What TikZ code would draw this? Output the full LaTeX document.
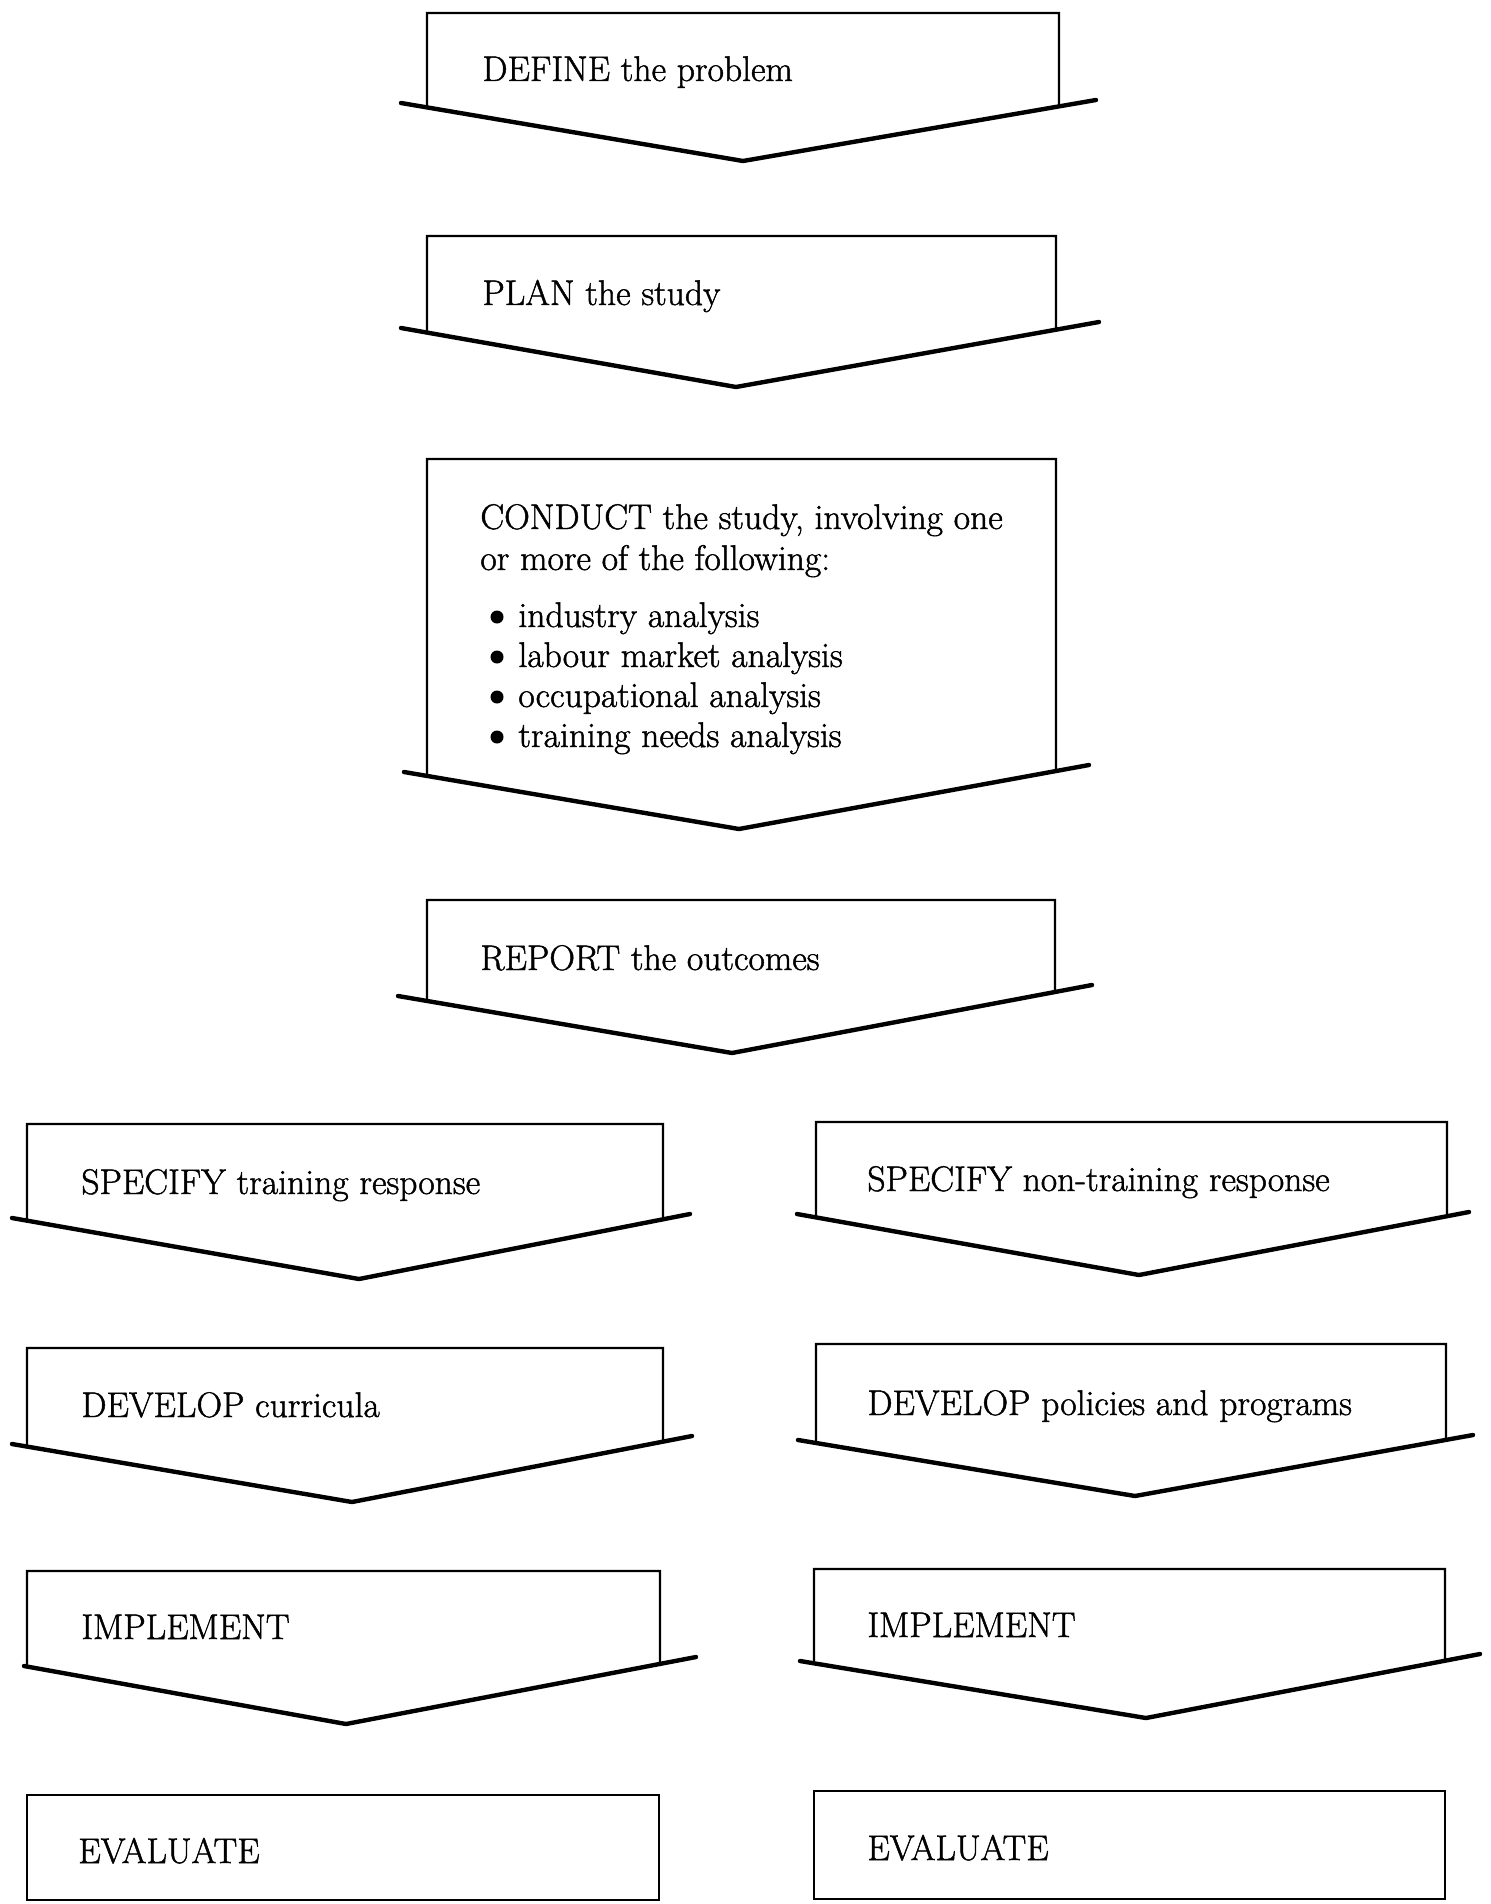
\documentclass[tikz,border=0pt]{standalone}
\usepackage{fontspec}
\newfontfamily\reffont{Latin Modern Roman}[FakeBold=1.3]
\usetikzlibrary{calc}
\tikzset{
  boxline/.style={line width=1.1pt, line join=miter},
  chevline/.style={line width=2.2pt, line join=round, line cap=round},
  lbl/.style={anchor=base west, inner sep=0pt, font=\reffont\fontsize{17.8}{21}\selectfont},
  bul/.style={circle, fill=black, inner sep=0pt, minimum size=6.5pt},
}
% #1 left x, #2 right x, #3 top y, (#4,#5) chevron left end, (#6,#7) tip, (#8,#9) right end
\newcommand\chevbox[9]{%
  \draw[chevline] (#4,#5) -- (#6,#7) -- (#8,#9);
  \draw[boxline] ($(#4,#5)!{(#1-#4)/(#6-#4)}!(#6,#7)$) -- (#1,#3) -- (#2,#3)
     -- ($(#6,#7)!{(#2-#6)/(#8-#6)}!(#8,#9)$);
}
\begin{document}
\begin{tikzpicture}[x=0.5pt,y=-0.5pt]
\useasboundingbox (0,0) rectangle (1491,1904);

% centre column
\chevbox{427}{1059}{13}{401}{103}{743}{161}{1096}{100}
\node[lbl] (define) at (482,81) {DEFINE the problem};

\chevbox{427}{1056}{236}{401}{328}{736}{387}{1099}{322}
\node[lbl] (plan) at (482,305) {PLAN the study};

\chevbox{427}{1056}{459}{404}{772}{739}{829}{1089}{765}
\node[lbl] (conduct1) at (480,529) {CONDUCT the study, involving one};
\node[lbl] (conduct2) at (480,570) {or more of the following:};
\node[bul] (b1) at (497,617) {};
\node[lbl] (i1) at (518,627) {industry analysis};
\node[bul] (b2) at (497,657) {};
\node[lbl] (i2) at (518,667) {labour market analysis};
\node[bul] (b3) at (497,697) {};
\node[lbl] (i3) at (518,707) {occupational analysis};
\node[bul] (b4) at (497,737) {};
\node[lbl] (i4) at (518,747) {training needs analysis};

\chevbox{427}{1055}{900}{398}{996}{732}{1053}{1092}{985}
\node[lbl] (report) at (480,970) {REPORT the outcomes};

% left column
\chevbox{27}{663}{1124}{12}{1218}{359}{1279}{690}{1214}
\node[lbl] (spec1) at (81,1194) {SPECIFY training response};

\chevbox{27}{663}{1348}{12}{1444}{352}{1502}{692}{1436}
\node[lbl] (dev1) at (81,1417) {DEVELOP curricula};

\chevbox{27}{660}{1571}{24}{1666}{346}{1724}{696}{1657}
\node[lbl] (impl1) at (81,1639) {IMPLEMENT};

\draw[boxline] (27,1900) -- (27,1795) -- (659,1795) -- (659,1900) -- cycle;
\node[lbl] (eval1) at (78,1863) {EVALUATE};

% right column
\chevbox{816}{1447}{1122}{797}{1214}{1139}{1275}{1469}{1212}
\node[lbl] (spec2) at (867,1191) {SPECIFY non-training response};

\chevbox{816}{1446}{1344}{798}{1440}{1135}{1496}{1473}{1435}
\node[lbl] (dev2) at (867,1415) {DEVELOP policies and programs};

\chevbox{814}{1445}{1569}{800}{1661}{1146}{1718}{1480}{1654}
\node[lbl] (impl2) at (867,1637) {IMPLEMENT};

\draw[boxline] (814,1899) -- (814,1791) -- (1445,1791) -- (1445,1899) -- cycle;
\node[lbl] (eval2) at (867,1860) {EVALUATE};
\end{tikzpicture}
\end{document}
